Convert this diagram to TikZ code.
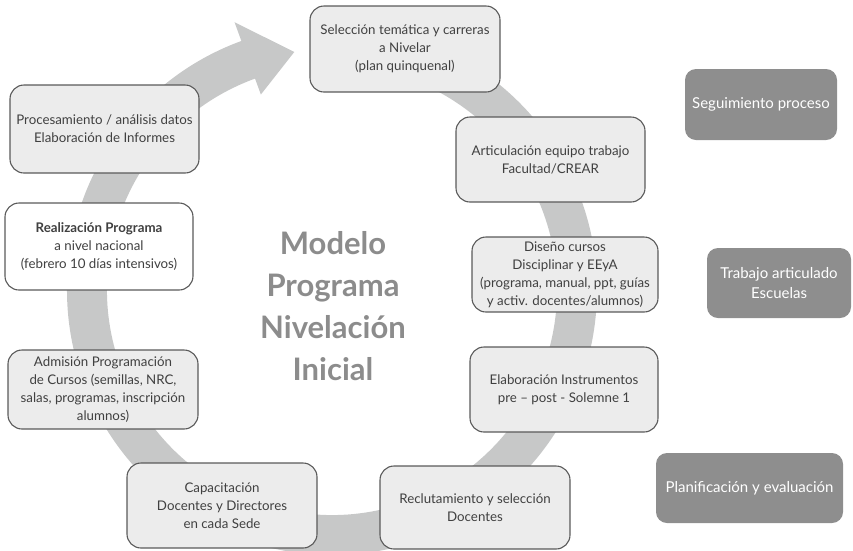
\documentclass[tikz,border=0pt]{standalone}
\usepackage{fontspec}
\setmainfont{Lato}
\definecolor{ringc}{RGB}{199,200,200}
\definecolor{boxfill}{RGB}{236,236,236}
\definecolor{boxline}{RGB}{90,90,90}
\definecolor{txt}{RGB}{64,64,64}
\definecolor{darkbox}{RGB}{142,142,142}
\definecolor{titlec}{RGB}{140,140,140}
\begin{document}
\begin{tikzpicture}[x=1pt,y=-1pt,
  stepbox/.style={draw=boxline, line width=1.1pt, fill=boxfill, rounded corners=14pt,
    align=center, text=txt, font=\fontsize{13.3}{18}\selectfont, inner sep=0pt},
  sidebox/.style={fill=darkbox, rounded corners=11pt, align=center, text=white,
    font=\fontsize{15}{20}\selectfont, inner sep=0pt},
  titletext/.style={align=center, text=titlec, font=\fontsize{31}{42}\selectfont\bfseries}]
\useasboundingbox (0,0) rectangle (853,550);
\clip (0,0) rectangle (853,550);
% ring arrow
\begin{scope}[shift={(332,290)}]
  \fill[ringc] (-85:265) arc[start angle=-85, end angle=250, radius=265]
    -- (250:285) -- (261:241) -- (250:208) -- (250:225)
    arc[start angle=250, end angle=-85, radius=225] -- cycle;
\end{scope}
% title
\node[titletext] (title) at (333,306) {Modelo\\Programa\\Nivelación\\Inicial};
% steps
\node[stepbox, minimum width=190pt, minimum height=86pt] (sel) at (405,49)
  {Selección temática y carreras\\a Nivelar\\(plan quinquenal)};
\node[stepbox, minimum width=189pt, minimum height=85pt] (art) at (550.5,159.5)
  {Articulación equipo trabajo\\Facultad/CREAR};
\node[stepbox, minimum width=186pt, minimum height=75pt] (dis) at (565,274.5)
  {Diseño cursos\\Disciplinar y EEyA\\(programa, manual, ppt, guías\\y activ. docentes/alumnos)};
\node[stepbox, minimum width=188pt, minimum height=85pt] (ela) at (564,389.5)
  {Elaboración Instrumentos\\pre -- post - Solemne 1};
\node[stepbox, minimum width=190pt, minimum height=83pt] (rec) at (475,507.5)
  {Reclutamiento y selección\\Docentes};
\node[stepbox, minimum width=190pt, minimum height=85pt] (cap) at (222,505.5)
  {Capacitación\\Docentes y Directores\\en cada Sede};
\node[stepbox, minimum width=190pt, minimum height=79pt] (adm) at (103,389.5)
  {Admisión Programación\\de Cursos (semillas, NRC,\\salas, programas, inscripción\\alumnos)};
\node[stepbox, fill=white, minimum width=188pt, minimum height=87pt] (rea) at (99,246.5)
  {{\bfseries Realización Programa}\\a nivel nacional\\(febrero 10 días intensivos)};
\node[stepbox, minimum width=189pt, minimum height=88pt] (pro) at (104.5,129)
  {Procesamiento / análisis datos\\Elaboración de Informes};
% side boxes
\node[sidebox, minimum width=152pt, minimum height=71pt] (seg) at (761,104.5)
  {Seguimiento proceso};
\node[sidebox, minimum width=144pt, minimum height=70pt] (tra) at (779,283)
  {Trabajo articulado\\Escuelas};
\node[sidebox, minimum width=187pt, minimum height=70pt] (pla) at (749.5,488)
  {Planificación y evaluación};
\end{tikzpicture}
\end{document}
